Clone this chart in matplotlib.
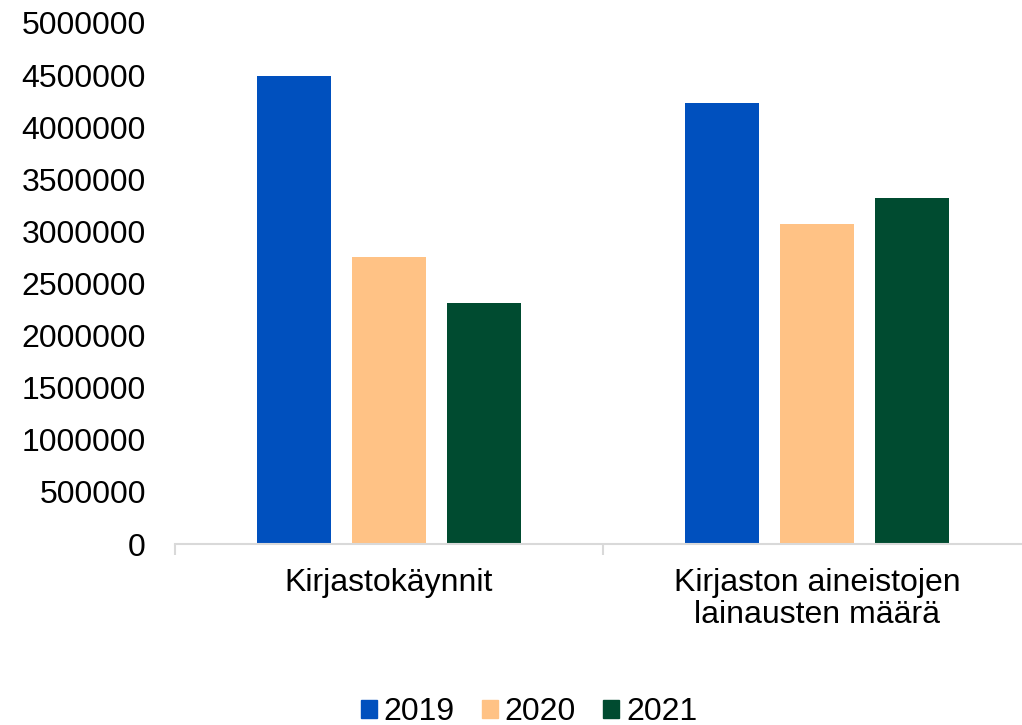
import matplotlib.pyplot as plt
import numpy as np
from matplotlib.patches import Patch

plt.rcParams['font.family'] = ['Liberation Sans', 'DejaVu Sans']

# Data
categories = ['Kirjastokäynnit', 'Kirjaston aineistojen\nlainausten määrä']
years = ['2019', '2020', '2021']
values_2019 = [4490000, 4230000]
values_2020 = [2755000, 3070000]
values_2021 = [2315000, 3320000]
colors = ['#0050BE', '#FFC285', '#004B30']

fig = plt.figure(figsize=(10.22, 7.25), dpi=100)
ax = fig.add_axes([175 / 1022, 1 - 544 / 725, 856 / 1022, (544 - 23) / 725])

x = np.arange(len(categories))
width = 0.175
offset = 0.222
for i, (vals, col) in enumerate(zip([values_2019, values_2020, values_2021], colors)):
    ax.bar(x + (i - 1) * offset, vals, width, color=col)

ax.set_xlim(-0.5, len(categories) - 0.5)
ax.set_ylim(0, 5000000)
ax.set_yticks(np.arange(0, 5000001, 500000))
ax.set_yticklabels([str(v) for v in range(0, 5000001, 500000)])
ax.tick_params(axis='y', length=0, pad=21, labelsize=23)

# Category labels and separators
ax.set_xticks(x)
ax.set_xticklabels(categories, linespacing=1.1)
ax.set_xticks(np.arange(-0.5, len(categories), 1), minor=True)
ax.tick_params(axis='x', which='major', length=0, pad=17, labelsize=23)
ax.tick_params(axis='x', which='minor', length=8, color='#D9D9D9', width=1.5)

for s in ['left', 'right', 'top']:
    ax.spines[s].set_visible(False)
ax.spines['bottom'].set_color('#D9D9D9')
ax.spines['bottom'].set_linewidth(1.5)

handles = [Patch(color=c, label=y) for c, y in zip(colors, years)]
fig.legend(handles=handles, loc='center', bbox_to_anchor=(529 / 1022, 1 - 712 / 725),
           ncol=3, frameon=False, fontsize=23, handlelength=0.5, handleheight=0.5,
           handletextpad=0.22, columnspacing=0.85, borderpad=0.2)

fig.savefig('out.png', dpi=100)
